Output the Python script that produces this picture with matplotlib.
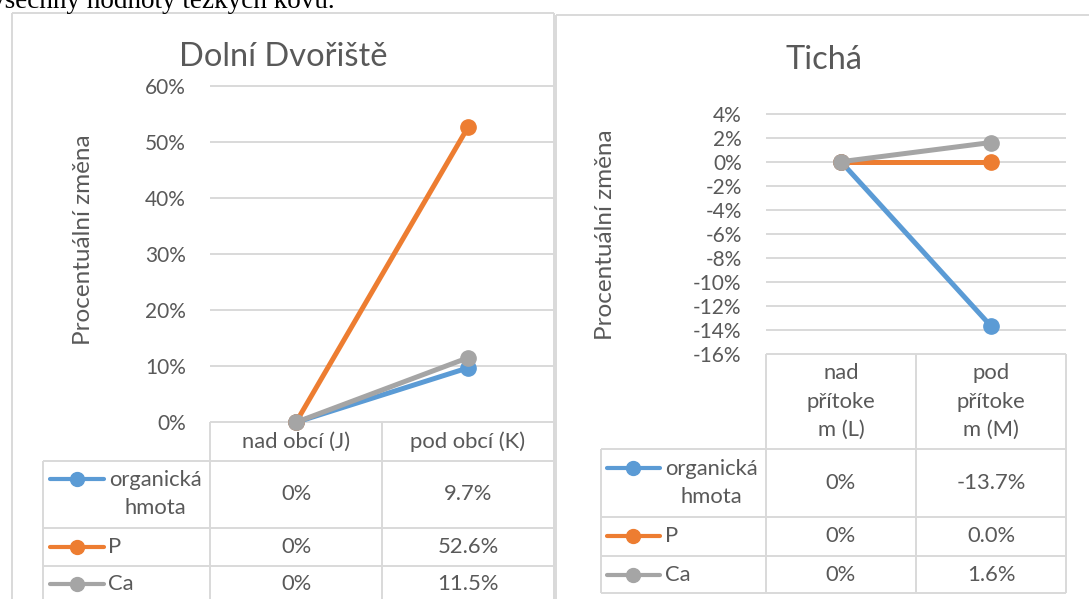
import matplotlib
matplotlib.use("Agg")
import matplotlib.pyplot as plt
from matplotlib.lines import Line2D
from matplotlib.ticker import FixedLocator, PercentFormatter

plt.rcParams["font.family"] = ["Lato", "DejaVu Sans"]
plt.rcParams["axes.unicode_minus"] = False

# ---- data -------------------------------------------------------------
series_names = ["organická\nhmota", "P", "Ca"]
series_colors = ["#5B9BD5", "#ED7D31", "#A5A5A5"]

dd_title = "Dolní Dvořiště"
dd_categories = ["nad obcí (J)", "pod obcí (K)"]
dd_organicka = [0.0, 9.7]
dd_p = [0.0, 52.6]
dd_ca = [0.0, 11.5]
dd_yticks = [0, 10, 20, 30, 40, 50, 60]

ti_title = "Tichá"
ti_categories = ["nad\npřítoke\nm (L)", "pod\npřítoke\nm (M)"]
ti_organicka = [0.0, -13.7]
ti_p = [0.0, 0.0]
ti_ca = [0.0, 1.6]
ti_yticks = [-16, -14, -12, -10, -8, -6, -4, -2, 0, 2, 4]

y_label = "Procentuální změna"
page_text = "všechny hodnoty těžkých kovů."

# ---- styling ----------------------------------------------------------
W, H = 1089, 599
TEXT = "#595959"
GRID = "#D9D9D9"
FS_TICK = 15
FS_TABLE = 15.8
FS_YLABEL = 17.5
FS_TITLE = 23.5

fig = plt.figure(figsize=(W / 100, H / 100), dpi=100)
fig.patch.set_facecolor("white")


def fx(x):
    return x / W


def fy(y):
    return 1 - y / H


def seg(x0, y0, x1, y1, color=GRID, lw=1.4):
    fig.add_artist(Line2D([fx(x0), fx(x1)], [fy(y0), fy(y1)],
                          color=color, lw=lw, solid_capstyle="butt"))


def label(x, y, s, ha="center", size=FS_TABLE, **kw):
    fig.text(fx(x), fy(y), s, ha=ha, va="center", color=TEXT,
             fontsize=size, **kw)


def fmt(values):
    return [f"{v:.0f}%" if i == 0 else f"{v:.1f}%" for i, v in enumerate(values)]


# running text of the page above the charts
fig.text(fx(-9), fy(7.5), page_text, ha="left", va="baseline",
         fontsize=19.5, color="black", family="Liberation Serif")


def chart(frame, plot, title_xy, ylabel_xy, title, categories, values,
          yticks, table):
    fl, ft, fr = frame
    # chart frame
    seg(fl, ft, fr, ft)
    seg(fl, ft, fl, H + 5)
    if fr < W:
        seg(fr, ft, fr, H + 5)

    px0, px1, py_top, py_bot = plot
    ax = fig.add_axes([fx(px0), fy(py_bot), fx(px1) - fx(px0),
                       fy(py_top) - fy(py_bot)])
    ax.set_xlim(-0.5, 1.5)
    ax.set_ylim(yticks[0], yticks[-1])
    for s in ax.spines.values():
        s.set_visible(False)
    ax.patch.set_alpha(0)
    ax.yaxis.set_major_locator(FixedLocator(yticks))
    ax.yaxis.set_major_formatter(PercentFormatter(decimals=0))
    ax.tick_params(axis="y", length=0, pad=17.5, labelsize=FS_TICK,
                   labelcolor=TEXT)
    ax.set_xticks([])
    ax.hlines(yticks, -0.5, 1.5, color=GRID, lw=1.4, clip_on=False, zorder=0)

    xs = list(range(len(categories)))
    for vals, c in zip(values, series_colors):
        ax.plot(xs, vals, color=c, lw=3.6, marker="o", ms=11,
                clip_on=False, solid_capstyle="round", zorder=3)

    fig.text(fx(title_xy[0]), fy(title_xy[1]), title, ha="center",
             va="center", fontsize=FS_TITLE, color=TEXT)
    fig.text(fx(ylabel_xy[0]), fy(ylabel_xy[1]), y_label, ha="center",
             va="center", rotation=90, fontsize=FS_YLABEL, color=TEXT)

    # data table under the plot
    tl = table["left"]
    head_bot = table["head_bot"]
    rows = table["rows"]
    bottom = rows[-1][1]
    mid = (px0 + px1) / 2
    col_centers = [(px0 + mid) / 2, (mid + px1) / 2]
    for x in (px0, mid, px1):
        seg(x, py_bot, x, bottom)
    seg(tl, head_bot, tl, bottom)
    seg(tl, head_bot, px1, head_bot)
    for _, rb in rows:
        seg(tl, rb, px1, rb)
    head_c = (py_bot + head_bot) / 2
    for cx, cat in zip(col_centers, categories):
        label(cx, head_c, cat, linespacing=1.55)

    lx0, lmk, lx1, ltx = table["legend_x"]
    for (rt, rb), name, vals, c, ycen in zip(rows, series_names, values,
                                            series_colors, table["row_y"]):
        fig.add_artist(Line2D([fx(lx0), fx(lmk), fx(lx1)],
                              [fy(table["mark_y"].get(name, ycen))] * 3,
                              color=c, lw=3.0, solid_capstyle="round",
                              marker="o", ms=10, markevery=[1]))
        if "\n" in name:
            label(table["name_center"], ycen, name, linespacing=1.5)
        else:
            label(ltx, ycen, name, ha="left")
        for cx, s in zip(col_centers, fmt(vals)):
            label(cx, ycen, s)


chart(frame=(12, 12.7, 554.3),
      plot=(210, 554, 85.7, 422.3),
      title_xy=(283, 57), ylabel_xy=(83, 240),
      title=dd_title, categories=dd_categories,
      values=[dd_organicka, dd_p, dd_ca], yticks=dd_yticks,
      table=dict(left=43, head_bot=460.7,
                 rows=[(460.7, 527.7), (527.7, 565.7), (565.7, 603)],
                 row_y=[494, 547, 584],
                 mark_y={series_names[0]: 479},
                 legend_x=(50, 77, 104, 108), name_center=155))

chart(frame=(555.7, 15, W + 20),
      plot=(766, 1066, 113.7, 353.7),
      title_xy=(824, 60), ylabel_xy=(605, 235),
      title=ti_title, categories=ti_categories,
      values=[ti_organicka, ti_p, ti_ca], yticks=ti_yticks,
      table=dict(left=601, head_bot=449.3,
                 rows=[(449.3, 517), (517, 555.5), (555.5, 593.3)],
                 row_y=[483, 536, 575],
                 mark_y={series_names[0]: 468},
                 legend_x=(607, 633, 660, 665), name_center=711))

fig.savefig("out.png", dpi=100, facecolor="white")
